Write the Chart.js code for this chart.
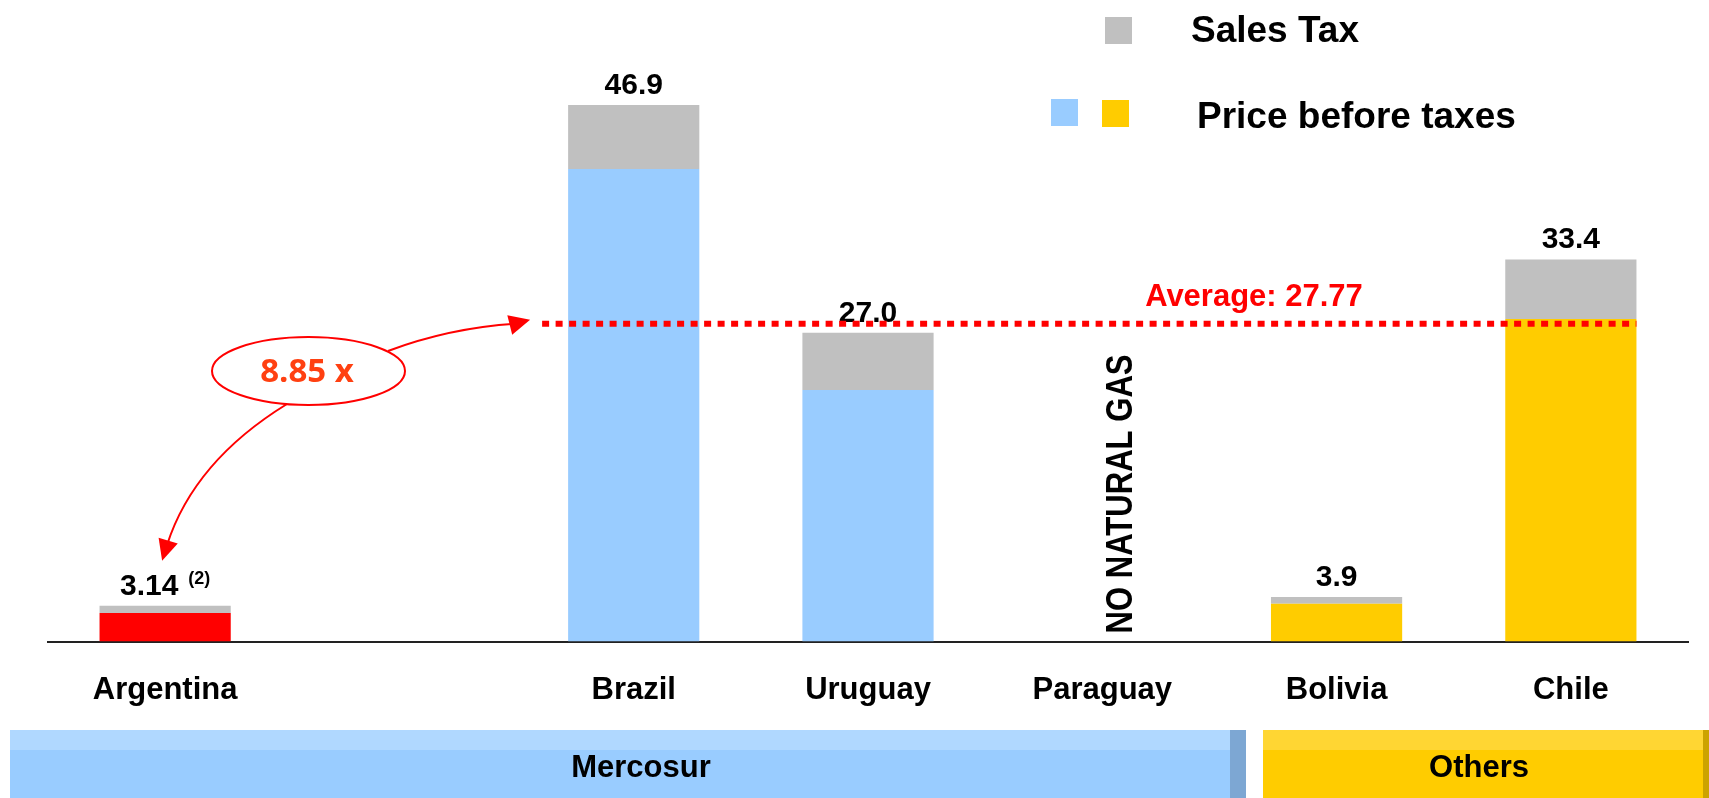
<!DOCTYPE html>
<html><head><meta charset="utf-8">
<script src="https://cdn.jsdelivr.net/npm/chart.js@4.4.1/dist/chart.umd.min.js"></script>
<style>html,body{margin:0;padding:0;background:#fff}#wrap{width:1709px;height:798px;position:relative}</style>
</head><body><div id="wrap"><canvas id="c"></canvas></div>
<script>
// ---- data ----
const categories = ['Argentina', '', 'Brazil', 'Uruguay', 'Paraguay', 'Bolivia', 'Chile'];
const priceBeforeTaxes = [2.5, null, 41.3, 22.0, null, 3.3, 28.2];
const salesTax = [0.64, null, 5.6, 5.0, null, 0.6, 5.2];
const totalLabels = ['3.14', '', '46.9', '27.0', '', '3.9', '33.4'];
const footnoteLabels = ['(2)', '', '', '', '', '', ''];
const noDataLabels = ['', '', '', '', 'NO NATURAL GAS', '', ''];
const priceColors = ['#FF0000', null, '#99CCFF', '#99CCFF', null, '#FFCC00', '#FFCC00'];
const averageValue = [27.77];
const averageText = ['Average: 27.77'];
const ratioText = ['8.85 x'];
const legendLabels = ['Sales Tax', 'Price before taxes'];
const groupLabels = ['Mercosur', 'Others'];

const FONT = '"Liberation Sans", Arial, Helvetica, sans-serif';

function arrowHead(ctx, tipX, tipY, fromX, fromY, len, half) {
  const a = Math.atan2(tipY - fromY, tipX - fromX);
  const bx = tipX - len * Math.cos(a), by = tipY - len * Math.sin(a);
  const px = -Math.sin(a) * half, py = Math.cos(a) * half;
  ctx.beginPath();
  ctx.moveTo(tipX, tipY);
  ctx.lineTo(bx + px, by + py);
  ctx.lineTo(bx - px, by - py);
  ctx.closePath();
  ctx.fill();
}

const decor = {
  id: 'decor',
  afterDatasetsDraw(chart) {
    const ctx = chart.ctx;
    const y = chart.scales.y, x = chart.scales.x;
    const bars = chart.getDatasetMeta(0).data;

    // value labels
    ctx.save();
    ctx.fillStyle = '#000';
    for (let i = 0; i < categories.length; i++) {
      if (!totalLabels[i]) continue;
      const total = (priceBeforeTaxes[i] || 0) + (salesTax[i] || 0);
      const top = y.getPixelForValue(total);
      const cx = x.getPixelForValue(i);
      const base = top - 11;
      ctx.font = 'bold 30px ' + FONT;
      const w1 = ctx.measureText(totalLabels[i]).width;
      let w2 = 0, gap = 0;
      if (footnoteLabels[i]) {
        ctx.font = 'bold 18px ' + FONT;
        w2 = ctx.measureText(footnoteLabels[i]).width;
        gap = 10;
      }
      const start = cx - (w1 + gap + w2) / 2;
      ctx.textBaseline = 'alphabetic';
      ctx.textAlign = 'left';
      ctx.font = 'bold 30px ' + FONT;
      ctx.fillText(totalLabels[i], start, base);
      if (footnoteLabels[i]) {
        ctx.font = 'bold 18px ' + FONT;
        ctx.fillText(footnoteLabels[i], start + w1 + gap, base - 11);
      }
    }
    // no data label (vertical)
    for (let i = 0; i < categories.length; i++) {
      if (!noDataLabels[i]) continue;
      const cx = x.getPixelForValue(i);
      ctx.save();
      ctx.translate(cx + 29.5, 494);
      ctx.rotate(-Math.PI / 2);
      ctx.scale(0.84, 1);
      ctx.font = 'bold 37px ' + FONT;
      ctx.textAlign = 'center';
      ctx.textBaseline = 'alphabetic';
      ctx.fillStyle = '#000';
      ctx.fillText(noDataLabels[i], 0, 0);
      ctx.restore();
    }
    ctx.restore();

    // average line
    const avgY = y.getPixelForValue(averageValue[0]);
    const x0 = bars[2].x - bars[2].width / 2 - 26;
    const x1 = bars[6].x + bars[6].width / 2;
    ctx.save();
    ctx.strokeStyle = '#FF0000';
    ctx.lineWidth = 6;
    ctx.setLineDash([7, 6.5]);
    ctx.beginPath();
    ctx.moveTo(x0, avgY);
    ctx.lineTo(x1, avgY);
    ctx.stroke();
    ctx.setLineDash([]);
    ctx.fillStyle = '#FF0000';
    ctx.font = 'bold 31px ' + FONT;
    ctx.textAlign = 'center';
    ctx.textBaseline = 'alphabetic';
    ctx.fillText(averageText[0], 1254, avgY - 18);

    // ellipse + ratio text
    ctx.lineWidth = 2;
    ctx.beginPath();
    ctx.ellipse(308.5, 371, 96.5, 34, 0, 0, Math.PI * 2);
    ctx.stroke();
    ctx.fillStyle = '#FF4011';
    ctx.font = 'bold 33px "Open Sans", "DejaVu Sans", sans-serif';
    ctx.textAlign = 'center';
    ctx.fillText(ratioText[0], 307, 382);

    // upper arrow to average line
    ctx.fillStyle = '#FF0000';
    const tipUX = x0 - 12, tipUY = avgY - 4;
    ctx.beginPath();
    ctx.moveTo(388, 351);
    ctx.quadraticCurveTo(450, 328, tipUX - 15, tipUY + 4);
    ctx.stroke();
    arrowHead(ctx, tipUX, tipUY, tipUX - 20, tipUY + 5, 21, 10);

    // lower arrow to Argentina
    const aTop = y.getPixelForValue(priceBeforeTaxes[0] + salesTax[0]);
    const tipLX = bars[0].x - 3, tipLY = aTop - 45;
    ctx.beginPath();
    ctx.moveTo(287, 404);
    ctx.bezierCurveTo(235, 436, 188, 480, tipLX + 5, tipLY - 16);
    ctx.stroke();
    arrowHead(ctx, tipLX, tipLY, tipLX + 6, tipLY - 20, 21, 10);
    ctx.restore();
  },
  afterDraw(chart) {
    const ctx = chart.ctx;
    ctx.save();
    // legend
    ctx.fillStyle = '#C0C0C0';
    ctx.fillRect(1105, 17, 27, 27);
    ctx.fillStyle = '#99CCFF';
    ctx.fillRect(1051, 99, 27, 27);
    ctx.fillStyle = '#FFCC00';
    ctx.fillRect(1102, 100, 27, 27);
    ctx.fillStyle = '#000';
    ctx.font = 'bold 37px ' + FONT;
    ctx.textAlign = 'left';
    ctx.textBaseline = 'alphabetic';
    ctx.fillText(legendLabels[0], 1191, 42);
    ctx.fillText(legendLabels[1], 1197, 128);

    // group bands
    ctx.fillStyle = '#99CCFF'; ctx.fillRect(10, 730, 1220, 68);
    ctx.fillStyle = '#B0D8FF'; ctx.fillRect(10, 730, 1220, 20);
    ctx.fillStyle = '#7DA7D3'; ctx.fillRect(1230, 730, 16, 68);
    ctx.fillStyle = '#FFCC00'; ctx.fillRect(1263, 730, 440, 68);
    ctx.fillStyle = '#FFD633'; ctx.fillRect(1263, 730, 440, 20);
    ctx.fillStyle = '#CCA300'; ctx.fillRect(1703, 730, 6, 68);
    ctx.fillStyle = '#000';
    ctx.font = 'bold 31px ' + FONT;
    ctx.textAlign = 'center';
    ctx.textBaseline = 'alphabetic';
    ctx.fillText(groupLabels[0], 641, 777);
    ctx.fillText(groupLabels[1], 1479, 777);
    ctx.restore();
  }
};

new Chart(document.getElementById('c'), {
  type: 'bar',
  data: {
    labels: categories,
    datasets: [
      { label: legendLabels[1], data: priceBeforeTaxes, backgroundColor: priceColors, borderWidth: 0 },
      { label: legendLabels[0], data: salesTax, backgroundColor: '#C0C0C0', borderWidth: 0 }
    ]
  },
  options: {
    responsive: true,
    maintainAspectRatio: false,
    animation: false,
    devicePixelRatio: 1,
    layout: { padding: { top: 69.5, bottom: 59.2, left: 48, right: 21 } },
    datasets: { bar: { barPercentage: 0.56, categoryPercentage: 1.0 } },
    plugins: { legend: { display: false }, tooltip: { enabled: false } },
    scales: {
      x: {
        stacked: true,
        grid: { display: false, drawTicks: false },
        border: { display: true, color: '#222', width: 2 },
        ticks: { color: '#000', padding: 30, maxRotation: 0, autoSkip: false,
                 font: { family: FONT, size: 31, weight: 'bold' } }
      },
      y: { stacked: true, display: false, min: 0, max: 50 }
    }
  },
  plugins: [decor]
});
</script>
</body></html>
